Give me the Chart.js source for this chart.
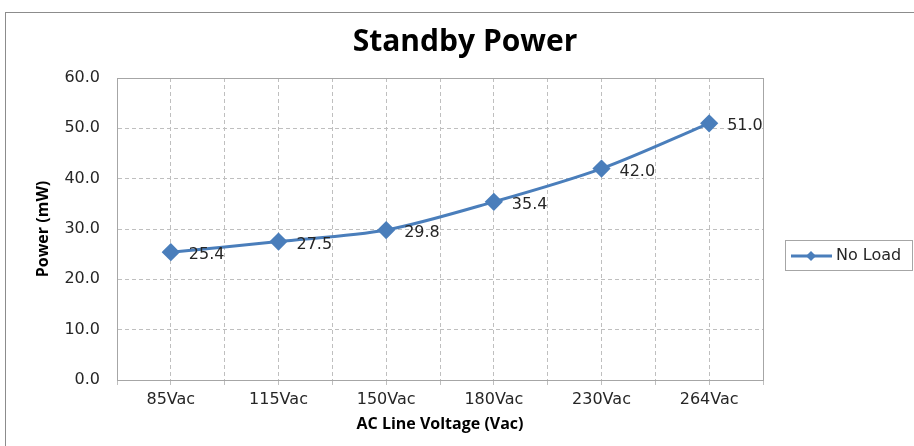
<!DOCTYPE html>
<html>
<head>
<meta charset="utf-8">
<script src="https://cdn.jsdelivr.net/npm/chart.js@4"></script>
<style>
  html, body { margin: 0; padding: 0; background: #fff; }
  #wrap { position: relative; width: 914px; height: 446px; overflow: hidden; }
  #frame { position: absolute; left: 5px; top: 12px; width: 920px; height: 460px; border: 1px solid #8c8c8c; }
  canvas { position: absolute; left: 0; top: 0; }
</style>
</head>
<body>
<div id="wrap">
  <div id="frame"></div>
  <canvas id="powerChart" width="914" height="446"></canvas>
</div>
<script>
// chart data
const categories = ["85Vac", "115Vac", "150Vac", "180Vac", "230Vac", "264Vac"];
const noLoad = [25.4, 27.5, 29.8, 35.4, 42.0, 51.0];
const seriesName = "No Load";
const lineColor = "#4a7ebb";

// titles, legend box and value labels drawn on the canvas
const extras = {
  id: "extras",
  afterDatasetsDraw(chart) {
    const ctx = chart.ctx;
    const a = chart.chartArea;
    ctx.save();

    // plot area border
    ctx.strokeStyle = "#a6a6a6";
    ctx.lineWidth = 1;
    ctx.strokeRect(Math.round(a.left) + 0.5, Math.round(a.top) + 0.5, Math.round(a.right - a.left), Math.round(a.bottom - a.top));

    // title
    ctx.fillStyle = "#000";
    ctx.font = "bold 30px 'Open Sans', sans-serif";
    ctx.textAlign = "center";
    ctx.textBaseline = "middle";
    ctx.fillText("Standby Power", 465, 42);

    // value labels
    const meta = chart.getDatasetMeta(0);
    ctx.font = "16px 'DejaVu Sans', sans-serif";
    ctx.fillStyle = "#262626";
    ctx.textAlign = "left";
    meta.data.forEach((pt, i) => {
      ctx.fillText(noLoad[i].toFixed(1), pt.x + 18, pt.y + 3);
    });

    // legend
    ctx.strokeStyle = "#a6a6a6";
    ctx.strokeRect(785.5, 240.5, 127, 30);
    ctx.strokeStyle = lineColor;
    ctx.lineWidth = 3;
    ctx.beginPath();
    ctx.moveTo(791, 256);
    ctx.lineTo(832, 256);
    ctx.stroke();
    ctx.fillStyle = lineColor;
    ctx.beginPath();
    ctx.moveTo(811, 251);
    ctx.lineTo(816, 256);
    ctx.lineTo(811, 261);
    ctx.lineTo(806, 256);
    ctx.closePath();
    ctx.fill();
    ctx.fillStyle = "#262626";
    ctx.font = "16px 'DejaVu Sans', sans-serif";
    ctx.textBaseline = "middle";
    ctx.fillText(seriesName, 836, 256);

    ctx.restore();
  }
};

const ctx = document.getElementById("powerChart").getContext("2d");
new Chart(ctx, {
  type: "line",
  data: {
    datasets: [{
      label: seriesName,
      data: noLoad.map((v, i) => ({ x: i, y: v })),
      borderColor: lineColor,
      backgroundColor: lineColor,
      borderWidth: 3,
      tension: 0.3,
      pointStyle: "rectRot",
      pointRadius: 7,
      pointHoverRadius: 7,
      pointBackgroundColor: lineColor,
      pointBorderColor: lineColor
    }]
  },
  options: {
    responsive: false,
    animation: false,
    layout: { padding: { left: 34, right: 151, top: 78, bottom: 12 } },
    plugins: {
      legend: { display: false },
      tooltip: { enabled: false }
    },
    scales: {
      x: {
        type: "linear",
        min: -0.5,
        max: 5.5,
        afterFit: s => { s.height = 54; },
        afterBuildTicks: s => {
          const t = [];
          for (let v = -0.5; v <= 5.5001; v += 0.5) t.push({ value: v });
          s.ticks = t;
        },
        ticks: {
          autoSkip: false,
          maxRotation: 0,
          padding: 5,
          color: "#262626",
          font: { family: "'DejaVu Sans', sans-serif", size: 16 },
          callback: v => Number.isInteger(v) ? categories[v] : ""
        },
        grid: {
          color: "#bfbfbf",
          tickColor: "#bfbfbf",
          tickLength: 5,
          drawTicks: true
        },
        border: { display: true, color: "#a6a6a6", dash: [4, 3] },
        title: {
          display: true,
          text: "AC Line Voltage (Vac)",
          color: "#000",
          font: { family: "'Open Sans', sans-serif", size: 16, weight: "bold" },
          padding: { top: 0, bottom: 0 }
        }
      },
      y: {
        min: 0,
        max: 60,
        afterFit: s => { s.width = 83; },
        ticks: {
          stepSize: 10,
          padding: 17,
          color: "#262626",
          font: { family: "'DejaVu Sans', sans-serif", size: 16 },
          callback: v => Number(v).toFixed(1)
        },
        grid: { color: "#bfbfbf", drawTicks: false, tickLength: 0 },
        border: { display: true, color: "#a6a6a6", dash: [4, 3] },
        title: {
          display: true,
          text: "Power (mW)",
          color: "#000",
          font: { family: "'Open Sans', sans-serif", size: 16, weight: "bold" },
          padding: { top: 0, bottom: 0 }
        }
      }
    }
  },
  plugins: [extras]
});
</script>
</body>
</html>
